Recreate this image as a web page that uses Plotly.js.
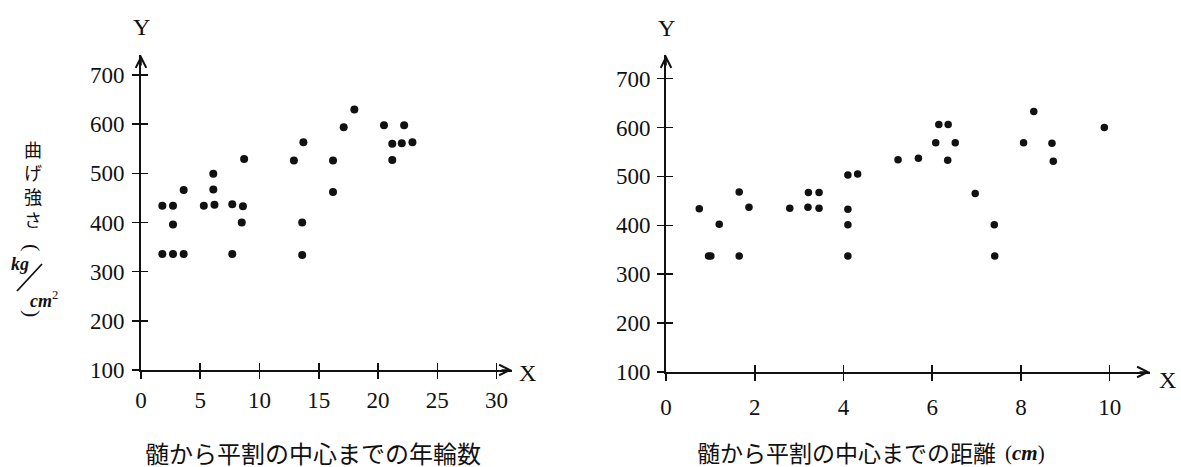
<!DOCTYPE html>
<html><head><meta charset="utf-8">
<script src="https://cdn.plot.ly/plotly-3.0.1.min.js"></script>
<style>html,body{margin:0;padding:0;background:#fff}#chart{width:1181px;height:467px}</style>
</head><body><div id="chart"></div>
<script>
// Left panel: number of growth rings from pith to centre of the split piece
var leftX = [1.8, 2.7, 3.6, 2.7, 1.8, 2.7, 3.6, 5.3, 6.2, 6.1, 6.1, 7.7, 8.6, 8.5, 7.7, 8.7, 12.9, 13.7, 13.6, 13.6, 16.2, 16.2, 17.1, 18.0, 20.5, 22.2, 21.2, 22.0, 22.9, 21.2];
var leftY = [434, 434, 466, 396, 336, 336, 336, 434, 436, 467, 499, 437, 433, 400, 336, 529, 526, 563, 400, 334, 526, 462, 594, 630, 598, 598, 560, 561, 563, 527];
// Right panel: distance (cm) from pith to centre of the split piece
var rightX = [0.75, 0.96, 1.01, 1.20, 1.65, 1.87, 1.65, 2.79, 3.21, 3.45, 3.20, 3.45, 4.10, 4.32, 4.10, 4.10, 4.10, 5.23, 5.69, 6.15, 6.36, 6.08, 6.52, 6.35, 6.97, 7.40, 7.41, 8.06, 8.29, 8.70, 8.73, 9.88];
var rightY = [434, 337, 337, 402, 468, 437, 337, 435, 467, 467, 437, 435, 503, 505, 433, 401, 337, 534, 537, 606, 606, 569, 569, 533, 465, 401, 337, 569, 633, 568, 531, 600];

var yTicks = [100, 200, 300, 400, 500, 600, 700];
var leftXTicks = [0, 5, 10, 15, 20, 25, 30];
var rightXTicks = [0, 2, 4, 6, 8, 10];

var leftXTitle = '髄から平割の中心までの年輪数';
var rightXTitle = '髄から平割の中心までの距離';
var rightXUnit = '(<b><i>cm</i></b>)';
var yTitle = ['曲', 'げ', '強', 'さ'];

var W = 1181, H = 467;
function px(v) { return v / W; }
function py(v) { return 1 - v / H; }

var serif = 'Liberation Serif, Times New Roman, serif';
var cjk = 'Noto Sans CJK JP, sans-serif';
var ink = '#111';
var tickFont = {family: serif, size: 23, color: ink};

function baseAxis(extra) {
  var a = {
    showgrid: false, zeroline: false, showline: true, linecolor: ink, linewidth: 1.8,
    ticks: 'outside', ticklen: 7, tickwidth: 1.6, tickcolor: ink,
    tickmode: 'array', tickfont: tickFont, fixedrange: true
  };
  for (var k in extra) a[k] = extra[k];
  return a;
}
function overAxis(extra) {
  var a = {
    showgrid: false, zeroline: false, showline: false,
    ticks: 'inside', ticklen: 7, tickwidth: 1.6, tickcolor: ink,
    tickmode: 'array', showticklabels: false, fixedrange: true
  };
  for (var k in extra) a[k] = extra[k];
  return a;
}

var LxD = [px(141), px(512)], LyD = [py(370), py(55)];
var RxD = [px(666), px(1150)], RyD = [py(372), py(55)];
var LxR = [0, 31.3], LyR = [100, 740.7];
var RxR = [0, 10.91], RyR = [100, 748.3];

var traces = [
  {x: leftX, y: leftY, xaxis: 'x', yaxis: 'y', type: 'scatter', mode: 'markers',
   marker: {color: ink, size: 8}, showlegend: false, hoverinfo: 'x+y'},
  {x: rightX, y: rightY, xaxis: 'x2', yaxis: 'y2', type: 'scatter', mode: 'markers',
   marker: {color: ink, size: 7.5}, showlegend: false, hoverinfo: 'x+y'},
  {x: [], y: [], xaxis: 'x3', yaxis: 'y3', type: 'scatter', mode: 'markers', showlegend: false, hoverinfo: 'skip'},
  {x: [], y: [], xaxis: 'x4', yaxis: 'y4', type: 'scatter', mode: 'markers', showlegend: false, hoverinfo: 'skip'}
];

function arrowHead(x, y, ax, ay) {
  return {xref: 'paper', yref: 'paper', x: x, y: y, text: '', showarrow: true,
          ax: ax, ay: ay, arrowhead: 5, arrowwidth: 1.6, arrowsize: 1.3, arrowcolor: ink};
}
function label(t, x, y, font, xa, ya, ang) {
  var a = {xref: 'paper', yref: 'paper', x: x, y: y, text: t, showarrow: false,
          font: font, xanchor: xa || 'center', yanchor: ya || 'middle'};
  if (ang) a.textangle = ang;
  return a;
}

var annotations = [
  arrowHead(px(141), py(55), 0, 12),
  arrowHead(px(512), py(370), -12, 0),
  arrowHead(px(666), py(55), 0, 12),
  arrowHead(px(1150), py(372), -12, 0),
  label('Y', px(141), py(27), {family: serif, size: 24, color: ink}),
  label('X', px(527), py(373), {family: serif, size: 24, color: ink}),
  label('Y', px(666), py(28), {family: serif, size: 24, color: ink}),
  label('X', px(1167), py(380), {family: serif, size: 24, color: ink}),
  label(leftXTitle, px(143), py(452), {family: cjk, size: 24, color: ink}, 'left'),
  label(rightXTitle, px(695), py(452), {family: cjk, size: 23, color: ink}, 'left'),
  label(rightXUnit, px(1003), py(453), {family: serif, size: 21, color: ink}, 'left'),
  label(yTitle.join('<br>'), px(33), py(184), {family: cjk, size: 18, color: ink}),
  label('(', px(33), py(247), {family: serif, size: 22, color: ink}, 'center', 'middle', 90),
  label('<b><i>kg</i></b>', px(20), py(264), {family: serif, size: 18, color: ink}),
  label('<b><i>cm</i></b><sup>2</sup>', px(44), py(299), {family: serif, size: 18, color: ink}),
  label(')', px(33), py(313), {family: serif, size: 22, color: ink}, 'center', 'middle', 90)
];

var shapes = [
  {type: 'line', xref: 'paper', yref: 'paper', x0: px(17), y0: py(291), x1: px(42), y1: py(264),
   line: {color: ink, width: 1.8}}
];

var layout = {
  width: W, height: H,
  margin: {l: 0, r: 0, t: 0, b: 0},
  paper_bgcolor: '#fff', plot_bgcolor: 'rgba(0,0,0,0)',
  showlegend: false,
  xaxis: baseAxis({domain: LxD, range: LxR, anchor: 'y', tickvals: leftXTicks, ticklabelstandoff: 2}),
  yaxis: baseAxis({domain: LyD, range: LyR, anchor: 'x', tickvals: yTicks, ticklabelstandoff: 3}),
  xaxis2: baseAxis({domain: RxD, range: RxR, anchor: 'y2', tickvals: rightXTicks, ticklabelstandoff: 7}),
  yaxis2: baseAxis({domain: RyD, range: RyR, anchor: 'x2', tickvals: yTicks, ticklabelstandoff: 2}),
  xaxis3: overAxis({domain: LxD, range: LxR, overlaying: 'x', anchor: 'y', tickvals: leftXTicks}),
  yaxis3: overAxis({domain: LyD, range: LyR, overlaying: 'y', anchor: 'x', tickvals: yTicks}),
  xaxis4: overAxis({domain: RxD, range: RxR, overlaying: 'x2', anchor: 'y2', tickvals: rightXTicks}),
  yaxis4: overAxis({domain: RyD, range: RyR, overlaying: 'y2', anchor: 'x2', tickvals: yTicks}),
  annotations: annotations,
  shapes: shapes
};

Plotly.newPlot('chart', traces, layout, {displayModeBar: false, staticPlot: true});
</script></body></html>
